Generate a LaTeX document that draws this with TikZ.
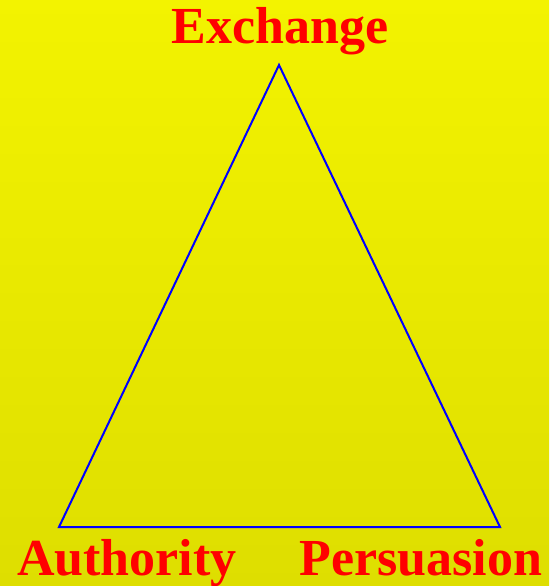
\documentclass[tikz,border=0pt]{standalone}
\usepackage{fontspec}
\setmainfont{Liberation Serif}
\usetikzlibrary{positioning}
\definecolor{bgtop}{RGB}{243,243,0}
\definecolor{bgbottom}{RGB}{222,222,0}
\begin{document}
\begin{tikzpicture}[
    x=1pt, y=-1pt,
    lbl/.style={text=red, font=\fontsize{52}{60}\selectfont\bfseries, inner sep=0pt, anchor=base},
    side/.style={draw=blue, line width=2pt, line join=miter}
  ]
    \shade[top color=bgtop, bottom color=bgbottom] (0,0) rectangle (549,586);
    \useasboundingbox (0,0) rectangle (549,586);
    \coordinate (top) at (279,65);
    \coordinate (left) at (59,527);
    \coordinate (right) at (500,527);
    \draw[side] (top) -- (left) -- (right) -- cycle;
    \node[lbl] (exch) at (280,44) {Exchange};
    \node[lbl] (auth) at (127,575) {Authority};
    \node[lbl] (pers) at (421,575) {Persuasion};
\end{tikzpicture}
\end{document}
